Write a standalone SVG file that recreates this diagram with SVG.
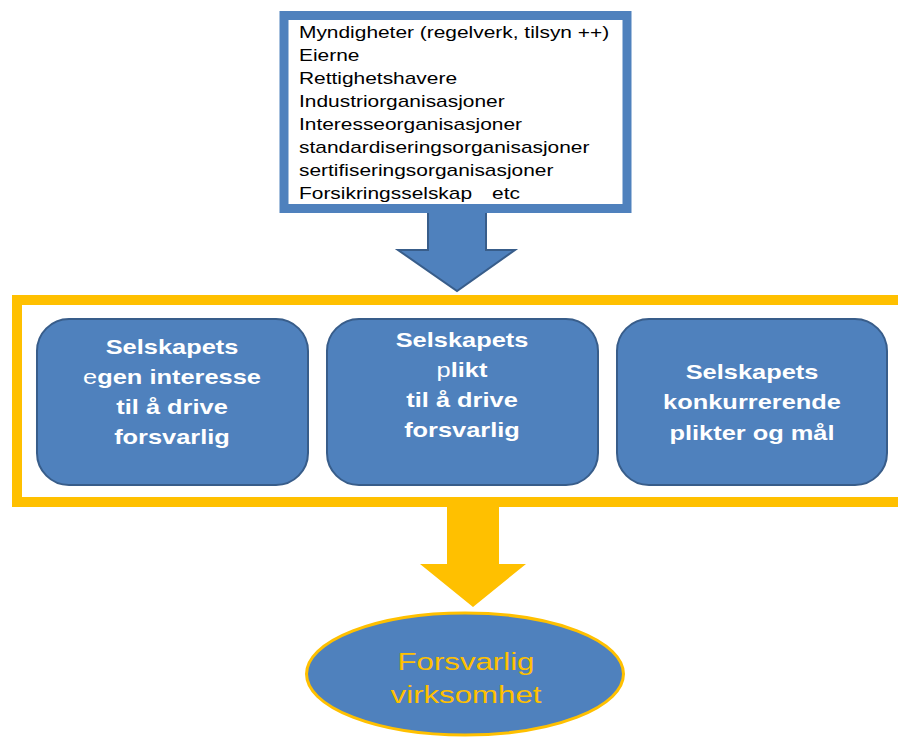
<svg xmlns="http://www.w3.org/2000/svg" width="898" height="738" viewBox="0 0 898 738">
  <style>
    .list { font-family: "Liberation Sans", Arial, sans-serif; font-size: 17px; fill: #000; }
    .card { fill: #4F81BD; stroke: #385D8A; stroke-width: 2; }
    .cardtxt { font-family: "Liberation Sans", Arial, sans-serif; font-size: 21px; font-weight: bold; fill: #fff; text-anchor: middle; }
    .thin { font-weight: normal; }
    .goal { font-family: "Liberation Sans", Arial, sans-serif; font-size: 24px; fill: #FFC000; text-anchor: middle; }
  </style>

  <rect width="898" height="738" fill="#fff"/>

  <!-- connectors: block arrows -->
  <g id="connectors">
    <path d="M428 205 L486 205 L486 250 L515 250 L457 291 L398 250 L428 250 Z" fill="#4F81BD" stroke="#385D8A" stroke-width="2" stroke-linejoin="miter"/>
    <path d="M447 505 L499 505 L499 564 L526 564 L473 607 L420 564 L447 564 Z" fill="#FFC000"/>
  </g>

  <!-- stakeholders list -->
  <g id="stakeholders">
    <rect x="284" y="15.5" width="343" height="193" fill="#fff" stroke="#4F81BD" stroke-width="9"/>
    <g transform="translate(299 0) scale(1.23 1)" class="list">
      <text x="0" y="38">Myndigheter (regelverk, tilsyn ++)</text>
      <text x="0" y="61">Eierne</text>
      <text x="0" y="84">Rettighetshavere</text>
      <text x="0" y="107">Industriorganisasjoner</text>
      <text x="0" y="130">Interesseorganisasjoner</text>
      <text x="0" y="153">standardiseringsorganisasjoner</text>
      <text x="0" y="176">sertifiseringsorganisasjoner</text>
      <text x="0" y="199">Forsikringsselskap<tspan x="157">etc</tspan></text>
    </g>
  </g>

  <!-- company frame -->
  <g id="company-frame">
    <rect x="17" y="300" width="900" height="202" fill="none" stroke="#FFC000" stroke-width="10"/>
  </g>

  <g id="own-interest">
    <rect class="card" x="37" y="319" width="271" height="166" rx="32" ry="32"/>
    <g transform="translate(172 0) scale(1.21 1)" class="cardtxt">
      <text x="0" y="354">Selskapets</text>
      <text x="0" y="384"><tspan class="thin">e</tspan>gen interesse</text>
      <text x="0" y="414">til å drive</text>
      <text x="0" y="444">forsvarlig</text>
    </g>
  </g>

  <g id="duty">
    <rect class="card" x="327" y="319" width="271" height="166" rx="32" ry="32"/>
    <g transform="translate(462 0) scale(1.21 1)" class="cardtxt">
      <text x="0" y="347">Selskapets</text>
      <text x="0" y="377"><tspan class="thin">p</tspan>likt</text>
      <text x="0" y="407">til å drive</text>
      <text x="0" y="437">forsvarlig</text>
    </g>
  </g>

  <g id="competing-goals">
    <rect class="card" x="617" y="319" width="270" height="166" rx="32" ry="32"/>
    <g transform="translate(752 0) scale(1.21 1)" class="cardtxt">
      <text x="0" y="379">Selskapets</text>
      <text x="0" y="409.5">konkurrerende</text>
      <text x="0" y="440">plikter og mål</text>
    </g>
  </g>

  <!-- outcome -->
  <g id="outcome">
    <ellipse cx="465" cy="674" rx="158.5" ry="61" fill="#4F81BD" stroke="#FFC000" stroke-width="3"/>
    <g transform="translate(466 0) scale(1.3 1)" class="goal">
      <text x="0" y="670">Forsvarlig</text>
      <text x="0" y="703">virksomhet</text>
    </g>
  </g>
</svg>
